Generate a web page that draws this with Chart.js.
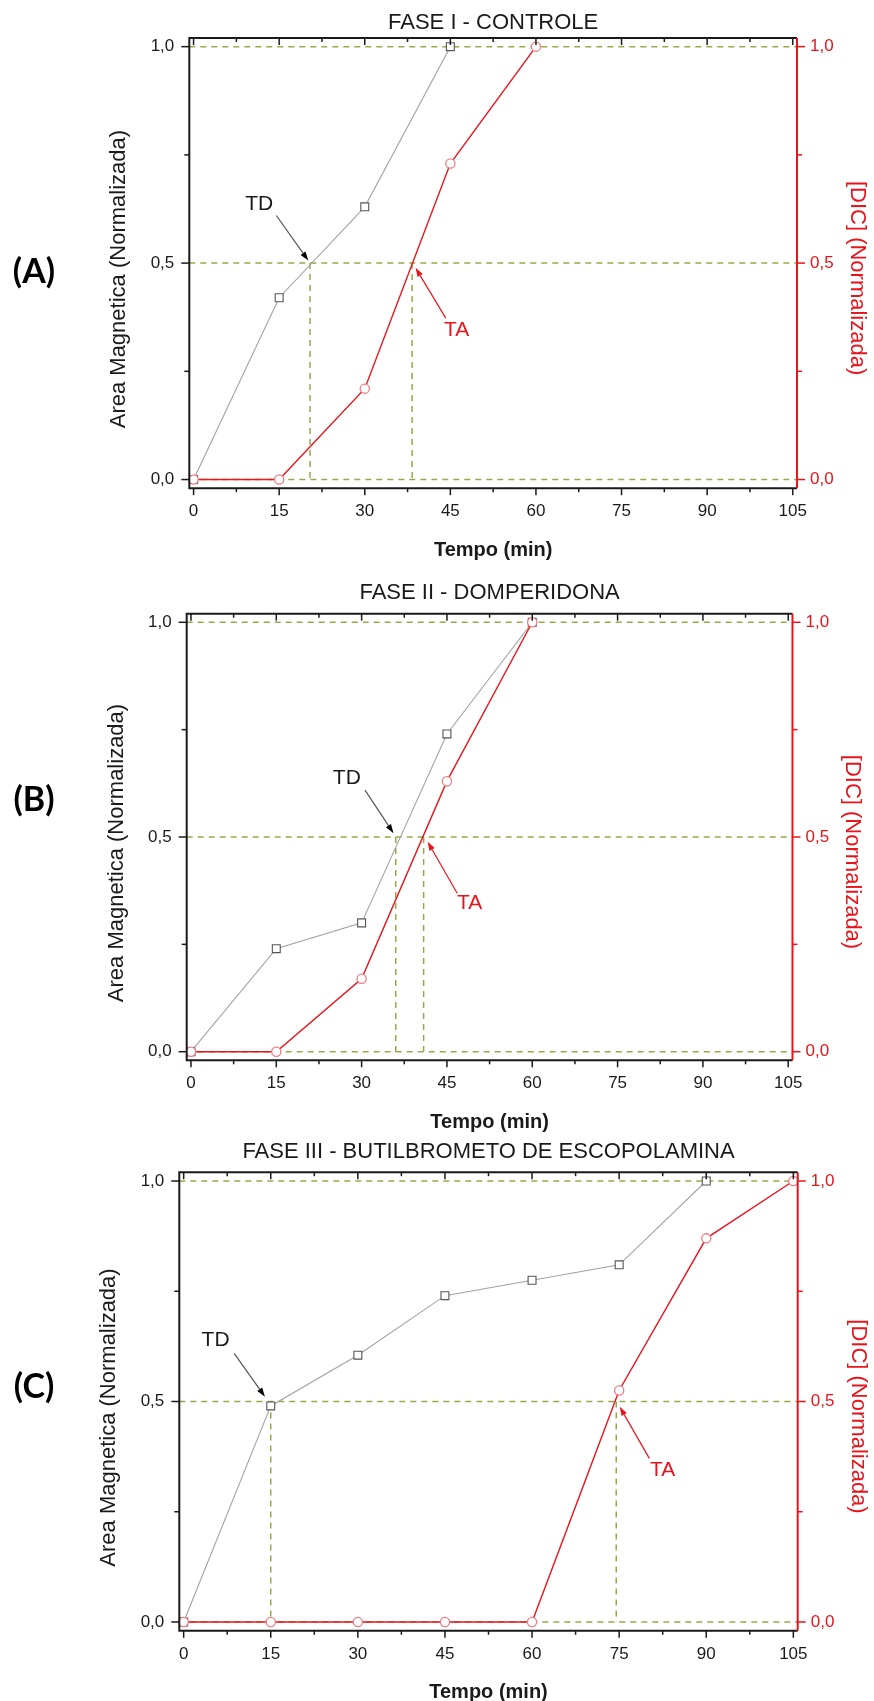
<!DOCTYPE html>
<html lang="pt">
<head>
<meta charset="utf-8">
<title>Area Magnetica x [DIC] - Fases I, II e III</title>
<script src="https://cdn.jsdelivr.net/npm/chart.js@4.4.1/dist/chart.umd.min.js"></script>
<style>
  html, body { margin: 0; padding: 0; background: #fff; }
  #page { position: relative; width: 874px; height: 1701px; overflow: hidden; }
  #page canvas { position: absolute; left: 0; }
</style>
</head>
<body>
<div id="page">
  <canvas id="faseI"></canvas>
  <canvas id="faseII"></canvas>
  <canvas id="faseIII"></canvas>
</div>
<script>
// Tempo de coleta (min) e marcas dos eixos
const tempoMin = [0, 15, 30, 45, 60, 75, 90, 105];
const xTickValues = [0, 15, 30, 45, 60, 75, 90, 105];
const yTickValues = [0, 0.5, 1];

// Area magnetica normalizada (quadrados)
const areaFaseI = [0, 0.42, 0.63, 1.0];
const areaFaseII = [0, 0.24, 0.30, 0.74, 1.0];
const areaFaseIII = [0, 0.49, 0.605, 0.74, 0.775, 0.81, 1.0];

// [DIC] normalizada (circulos)
const dicFaseI = [0, 0, 0.21, 0.73, 1.0];
const dicFaseII = [0, 0, 0.17, 0.63, 1.0];
const dicFaseIII = [0, 0, 0, 0, 0, 0.525, 0.87, 1.0];

// Tempo em que cada curva cruza 0,5 (TD = area, TA = DIC), em min
const tdTempos = [20.4, 36.0, 15.0];
const taTempos = [38.3, 40.9, 74.5];

const PAGE_W = 874;
const FONT = "'Liberation Sans', Arial, sans-serif";
const INK = '#1a1a1a';
const RED = '#e8141c';
const PINK = '#f07c86';
const GRAY_LINE = '#a2a2a2';
const GRAY_MARK = '#555555';
const GUIDE = '#9da64a';

// posicoes de cada painel na pagina (px) e das anotacoes (unidades dos eixos)
const panels = [
  {
    id: 'faseI', tag: '(A)', title: 'FASE I - CONTROLE',
    area: areaFaseI, dic: dicFaseI, td: tdTempos[0], ta: taTempos[0],
    canvasTop: 0, canvasH: 580, titleY: 23.3, tagY: 272,
    frame: { left: 189.3, right: 797, top: 38, bottom: 488.2 },
    tdText: [11.5, 0.635], tdArrow: [14.5, 0.61, 20.1, 0.506],
    taText: [46.1, 0.345], taArrow: [44.2, 0.373, 38.9, 0.489]
  },
  {
    id: 'faseII', tag: '(B)', title: 'FASE II - DOMPERIDONA',
    area: areaFaseII, dic: dicFaseII, td: tdTempos[1], ta: taTempos[1],
    canvasTop: 575, canvasH: 565, titleY: 593.3, tagY: 800,
    frame: { left: 186.7, right: 792.5, top: 613.7, bottom: 1060.3 },
    tdText: [27.4, 0.637], tdArrow: [30.6, 0.609, 35.6, 0.509],
    taText: [49.0, 0.346], taArrow: [46.8, 0.369, 41.6, 0.489]
  },
  {
    id: 'faseIII', tag: '(C)', title: 'FASE III - BUTILBROMETO DE ESCOPOLAMINA',
    area: areaFaseIII, dic: dicFaseIII, td: tdTempos[2], ta: taTempos[2],
    canvasTop: 1135, canvasH: 566, titleY: 1151.7, tagY: 1387,
    frame: { left: 179.3, right: 797.7, top: 1172.2, bottom: 1630.8 },
    tdText: [5.5, 0.639], tdArrow: [8.7, 0.609, 14.0, 0.511],
    taText: [82.5, 0.345], taArrow: [80.2, 0.371, 75.1, 0.488]
  }
];

function xy(values) {
  return values.map((v, i) => ({ x: tempoMin[i], y: v }));
}

function decimalBR(v) {
  return v.toFixed(1).replace('.', ',');
}

function drawArrow(ctx, x1, y1, x2, y2, lineColor, headColor) {
  const ang = Math.atan2(y2 - y1, x2 - x1);
  const head = 9, half = 3;
  const cx = Math.cos(ang), sy = Math.sin(ang);
  ctx.strokeStyle = lineColor;
  ctx.lineWidth = 1.2;
  ctx.beginPath();
  ctx.moveTo(x1, y1);
  ctx.lineTo(x2 - head * cx, y2 - head * sy);
  ctx.stroke();
  ctx.fillStyle = headColor;
  ctx.beginPath();
  ctx.moveTo(x2, y2);
  ctx.lineTo(x2 - head * cx + half * sy, y2 - head * sy - half * cx);
  ctx.lineTo(x2 - head * cx - half * sy, y2 - head * sy + half * cx);
  ctx.closePath();
  ctx.fill();
}

function makePanel(p) {
  const off = p.canvasTop;
  const fr = {
    left: p.frame.left, right: p.frame.right,
    top: p.frame.top - off, bottom: p.frame.bottom - off
  };
  const canvas = document.getElementById(p.id);
  canvas.width = PAGE_W;
  canvas.height = p.canvasH;
  canvas.style.top = off + 'px';

  // linhas-guia, moldura, marcas, textos e setas
  const decor = {
    id: 'decor_' + p.id,
    beforeDatasetsDraw(chart) {
      const { ctx, chartArea: ca, scales: { x, y } } = chart;
      ctx.save();
      ctx.strokeStyle = GUIDE;
      ctx.lineWidth = 1.5;
      ctx.setLineDash([6, 5]);
      yTickValues.forEach(v => {
        const py = y.getPixelForValue(v);
        ctx.beginPath();
        ctx.moveTo(ca.left, py);
        ctx.lineTo(ca.right, py);
        ctx.stroke();
      });
      [p.td, p.ta].forEach(t => {
        const px = x.getPixelForValue(t);
        ctx.beginPath();
        ctx.moveTo(px, y.getPixelForValue(0.5));
        ctx.lineTo(px, y.getPixelForValue(0));
        ctx.stroke();
      });
      ctx.restore();
    },
    afterDraw(chart) {
      const { ctx, chartArea: ca, scales: { x, y } } = chart;
      ctx.save();

      // marcas dos eixos
      ctx.lineWidth = 1.5;
      for (let v = 0; v <= 1.0001; v += 0.25) {
        const py = y.getPixelForValue(v);
        const major = Math.abs(v * 2 - Math.round(v * 2)) < 1e-6;
        const len = major ? 8 : 5;
        ctx.strokeStyle = INK;
        ctx.beginPath(); ctx.moveTo(ca.left - len, py); ctx.lineTo(ca.left, py); ctx.stroke();
        ctx.strokeStyle = RED;
        ctx.beginPath(); ctx.moveTo(ca.right, py); ctx.lineTo(ca.right + len, py); ctx.stroke();
      }
      ctx.strokeStyle = INK;
      for (let t = 0; t <= 105.001; t += 7.5) {
        const px = x.getPixelForValue(t);
        const major = Math.abs(t / 15 - Math.round(t / 15)) < 1e-6;
        ctx.beginPath(); ctx.moveTo(px, ca.bottom); ctx.lineTo(px, ca.bottom + (major ? 7 : 4)); ctx.stroke();
        ctx.beginPath(); ctx.moveTo(px, ca.top); ctx.lineTo(px, ca.top + (major ? 7 : 4)); ctx.stroke();
      }

      // moldura
      ctx.lineWidth = 2;
      ctx.strokeStyle = INK;
      ctx.beginPath();
      ctx.moveTo(ca.right, ca.top);
      ctx.lineTo(ca.left, ca.top);
      ctx.lineTo(ca.left, ca.bottom);
      ctx.lineTo(ca.right, ca.bottom);
      ctx.stroke();
      ctx.strokeStyle = RED;
      ctx.beginPath();
      ctx.moveTo(ca.right, ca.top);
      ctx.lineTo(ca.right, ca.bottom);
      ctx.stroke();

      // titulos
      const midX = (ca.left + ca.right) / 2;
      const midY = (ca.top + ca.bottom) / 2;
      ctx.textAlign = 'center';
      ctx.textBaseline = 'middle';
      ctx.fillStyle = INK;
      ctx.font = '22px ' + FONT;
      ctx.fillText(p.title, midX, p.titleY - off);
      ctx.font = 'bold 20px ' + FONT;
      ctx.fillText('Tempo (min)', midX, ca.bottom + 62);

      ctx.font = '22px ' + FONT;
      ctx.save();
      ctx.translate(ca.left - 70, midY + 16);
      ctx.rotate(-Math.PI / 2);
      ctx.fillText('Area Magnetica (Normalizada)', 0, 0);
      ctx.restore();

      ctx.fillStyle = RED;
      ctx.save();
      ctx.translate(ca.right + 60, midY + 15);
      ctx.rotate(Math.PI / 2);
      ctx.fillText('[DIC] (Normalizada)', 0, 0);
      ctx.restore();

      // rotulo do painel
      ctx.fillStyle = '#000';
      ctx.font = "bold 34px Lato, 'Open Sans', sans-serif";
      ctx.fillText(p.tag, 34, p.tagY - off);

      // anotacoes TD / TA
      ctx.font = '21px ' + FONT;
      ctx.fillStyle = INK;
      ctx.fillText('TD', x.getPixelForValue(p.tdText[0]), y.getPixelForValue(p.tdText[1]));
      ctx.fillStyle = RED;
      ctx.fillText('TA', x.getPixelForValue(p.taText[0]), y.getPixelForValue(p.taText[1]));

      const a = p.tdArrow;
      drawArrow(ctx, x.getPixelForValue(a[0]), y.getPixelForValue(a[1]),
        x.getPixelForValue(a[2]), y.getPixelForValue(a[3]), '#555', '#000');
      const b = p.taArrow;
      drawArrow(ctx, x.getPixelForValue(b[0]), y.getPixelForValue(b[1]),
        x.getPixelForValue(b[2]), y.getPixelForValue(b[3]), RED, RED);

      ctx.restore();
    }
  };

  const yTicks = s => { s.ticks = yTickValues.map(v => ({ value: v })); };

  new Chart(canvas, {
    type: 'line',
    data: {
      datasets: [
        {
          label: '[DIC] (Normalizada)',
          data: xy(p.dic),
          yAxisID: 'y2',
          borderColor: RED,
          borderWidth: 1.4,
          pointStyle: 'circle',
          pointRadius: 4.6,
          pointBorderColor: PINK,
          pointBackgroundColor: '#fff',
          pointBorderWidth: 1.3,
          clip: false
        },
        {
          label: 'Area Magnetica (Normalizada)',
          data: xy(p.area),
          yAxisID: 'y',
          borderColor: GRAY_LINE,
          borderWidth: 1.1,
          pointStyle: 'rect',
          pointRadius: 5.6,
          pointBorderColor: GRAY_MARK,
          pointBackgroundColor: '#fff',
          pointBorderWidth: 1.1,
          clip: false
        }
      ]
    },
    options: {
      responsive: false,
      animation: false,
      events: [],
      layout: { padding: { top: fr.top, left: 0, right: 0, bottom: 0 } },
      plugins: { legend: { display: false }, tooltip: { enabled: false } },
      scales: {
        x: {
          type: 'linear',
          position: 'bottom',
          min: -0.75,
          max: 105.75,
          afterBuildTicks: s => { s.ticks = xTickValues.map(v => ({ value: v })); },
          afterFit: s => { s.height = p.canvasH - fr.bottom; },
          grid: { display: false, drawTicks: false },
          border: { display: false },
          ticks: {
            padding: 13, color: INK, maxRotation: 0, autoSkip: false,
            font: { family: FONT, size: 17 },
            callback: v => String(v)
          }
        },
        y: {
          position: 'left',
          min: -0.02,
          max: 1.02,
          afterBuildTicks: yTicks,
          afterFit: s => { s.width = fr.left; },
          grid: { display: false, drawTicks: false },
          border: { display: false },
          ticks: {
            padding: 15, color: INK,
            font: { family: FONT, size: 17 },
            callback: v => decimalBR(v)
          }
        },
        y2: {
          position: 'right',
          min: -0.02,
          max: 1.02,
          afterBuildTicks: yTicks,
          afterFit: s => { s.width = PAGE_W - fr.right; },
          grid: { display: false, drawTicks: false },
          border: { display: false },
          ticks: {
            padding: 13, color: RED,
            font: { family: FONT, size: 17 },
            callback: v => decimalBR(v)
          }
        }
      }
    },
    plugins: [decor]
  });
}

panels.forEach(makePanel);
</script>
</body>
</html>
